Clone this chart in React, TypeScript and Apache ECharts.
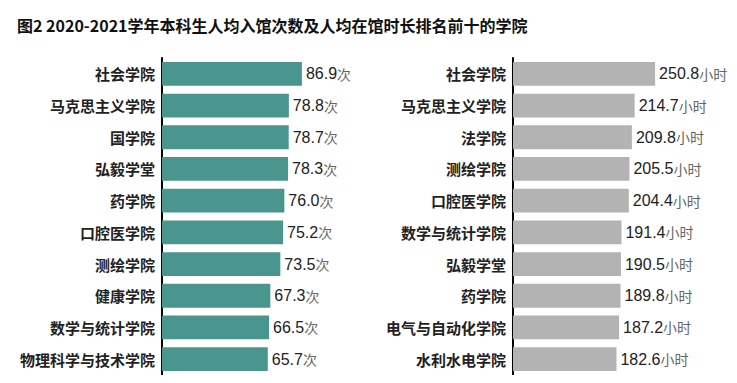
import React, { useEffect, useRef } from "react";
import * as echarts from "echarts";

const titleText = "图2 2020-2021学年本科生人均入馆次数及人均在馆时长排名前十的学院";
const visitCategories = ["社会学院", "马克思主义学院", "国学院", "弘毅学堂", "药学院", "口腔医学院", "测绘学院", "健康学院", "数学与统计学院", "物理科学与技术学院"];
const visitValues = [86.9, 78.8, 78.7, 78.3, 76.0, 75.2, 73.5, 67.3, 66.5, 65.7];
const hourCategories = ["社会学院", "马克思主义学院", "法学院", "测绘学院", "口腔医学院", "数学与统计学院", "弘毅学堂", "药学院", "电气与自动化学院", "水利水电学院"];
const hourValues = [250.8, 214.7, 209.8, 205.5, 204.4, 191.4, 190.5, 189.8, 187.2, 182.6];

export default function App() {
  const ref = useRef<HTMLDivElement>(null);
  useEffect(() => {
    const chart = echarts.init(ref.current!, null, { renderer: "svg" });
    const catLabel = {
      fontFamily: "Noto Sans CJK SC",
      fontWeight: "bold" as const,
      fontSize: 15,
      color: "#222",
      margin: 7,
    };
    const rich = {
      n: { fontFamily: "Liberation Sans, Arial", fontSize: 16, color: "#222" },
      u: { fontFamily: "Noto Sans CJK SC", fontSize: 14, color: "#666" },
    };
    chart.setOption({
      animation: false,
      backgroundColor: "#fff",
      title: {
        text: titleText,
        left: 4,
        top: 4,
        textStyle: { fontFamily: "Noto Sans CJK SC", fontWeight: "bold", fontSize: 16, color: "#111" },
      },
      grid: [
        { left: 154, top: 50, width: 161, height: 318 },
        { left: 505, top: 50, width: 170, height: 318 },
      ],
      xAxis: [
        { gridIndex: 0, type: "value", min: 0, max: 100, show: false },
        { gridIndex: 1, type: "value", min: 0, max: 300, show: false },
      ],
      yAxis: [
        {
          gridIndex: 0, type: "category", inverse: true, data: visitCategories,
          axisLine: { show: true, lineStyle: { color: "#000", width: 2 } },
          axisTick: { show: false }, axisLabel: catLabel,
        },
        {
          gridIndex: 1, type: "category", inverse: true, data: hourCategories,
          axisLine: { show: true, lineStyle: { color: "#000", width: 2 } },
          axisTick: { show: false }, axisLabel: catLabel,
        },
      ],
      series: [
        {
          type: "bar", xAxisIndex: 0, yAxisIndex: 0, data: visitValues, barWidth: "75%",
          itemStyle: { color: "#4A968F" },
          label: {
            show: true, position: "right", distance: 4,
            formatter: (p: any) => `{n|${p.value.toFixed(1)}}{u|次}`,
            rich,
          },
        },
        {
          type: "bar", xAxisIndex: 1, yAxisIndex: 1, data: hourValues, barWidth: "75%",
          itemStyle: { color: "#B3B3B3" },
          label: {
            show: true, position: "right", distance: 4,
            formatter: (p: any) => `{n|${p.value.toFixed(1)}}{u|小时}`,
            rich,
          },
        },
      ],
    });
    return () => chart.dispose();
  }, []);
  return <div ref={ref} style={{ width: 721, height: 367 }} />;
}
